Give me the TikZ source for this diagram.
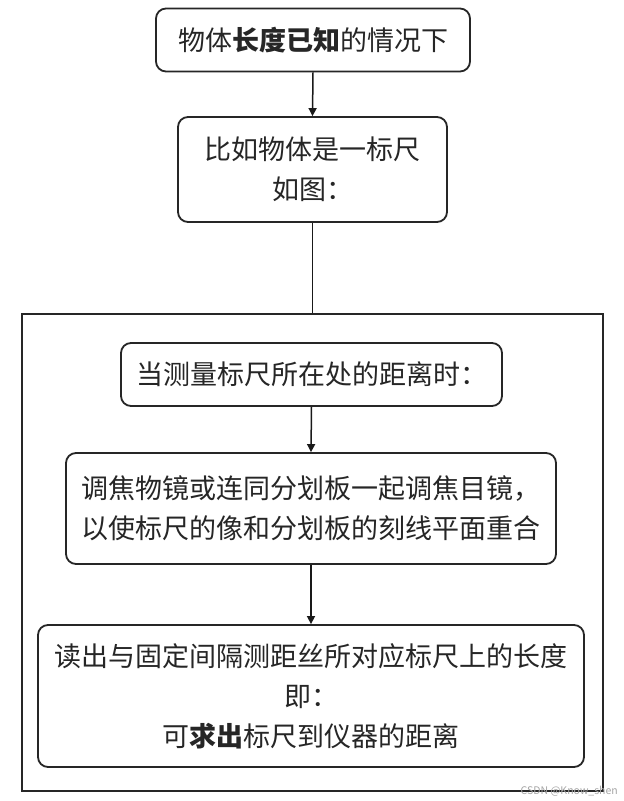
\documentclass[tikz,border=0pt]{standalone}
\usepackage{fontspec}
\setmainfont{Noto Sans CJK SC}
\usetikzlibrary{arrows.meta}
\tikzset{
  flowbox/.style={draw=black!85, line width=1.8pt, rounded corners=10pt, inner sep=0pt, align=center,
    font=\fontsize{27}{40}\selectfont, text=black!85},
  framebox/.style={draw=black!85, line width=1.6pt, inner sep=0pt},
  conn/.style={draw=black!90, line width=1.5pt},
  arr/.style={conn, -{Triangle[length=8pt,width=8pt]}},
  wmtext/.style={text=black!35, font=\fontsize{10.5}{12}\selectfont, inner sep=0pt, anchor=east}
}
\begin{document}
\begin{tikzpicture}[x=1pt,y=-1pt]
\useasboundingbox[fill=white] (0,0) rectangle (624,801);
\node[framebox, minimum width=581pt, minimum height=477pt] (outer) at (312.5,552.5) {};
\node[flowbox, minimum width=314pt, minimum height=63pt] (b1) at (313,40) {物体\textbf{长度已知}的情况下};
\node[flowbox, minimum width=269pt, minimum height=105pt] (b2) at (312.5,169.5) {比如物体是一标尺\\如图：};
\node[flowbox, minimum width=381pt, minimum height=63pt] (b3) at (311.5,374.5) {当测量标尺所在处的距离时：};
\node[flowbox, minimum width=490pt, minimum height=111pt] (b4) at (311,508.5) {调焦物镜或连同分划板一起调焦目镜，\\以使标尺的像和分划板的刻线平面重合};
\node[flowbox, minimum width=546pt, minimum height=142pt] (b5) at (311,696) {读出与固定间隔测距丝所对应标尺上的长度\\即：\\可\textbf{求出}标尺到仪器的距离};
\draw[arr] (b1.south) -- (b2.north);
\draw[conn] (b2.south) -- (b2.south |- outer.north);
\draw[arr] (b3.south) -- (b4.north);
\draw[arr] (b4.south) -- (b5.north);
\node[wmtext] (wm) at (618,791) {CSDN @Know\_shen};
\end{tikzpicture}
\end{document}
